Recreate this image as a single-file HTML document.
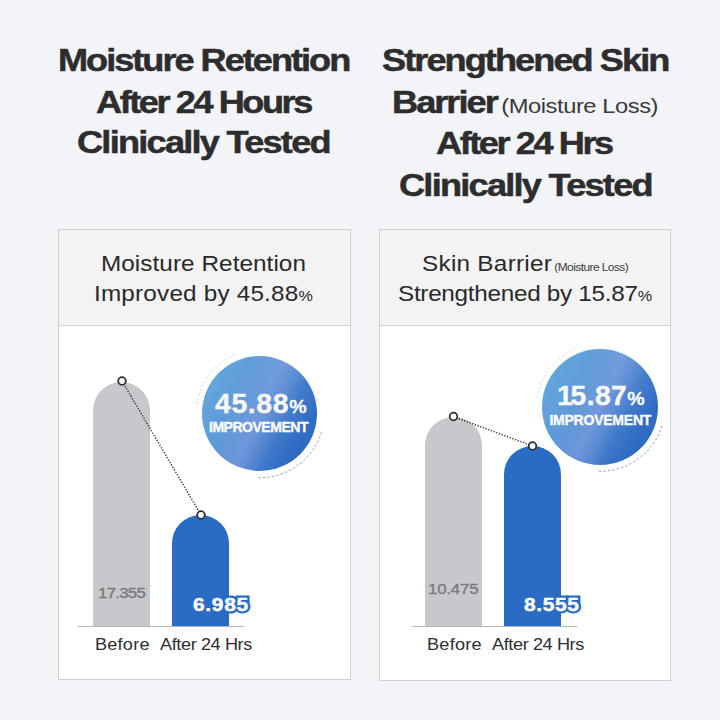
<!DOCTYPE html>
<html><head><meta charset="utf-8">
<style>
html,body{margin:0;padding:0;}
body{width:720px;height:720px;overflow:hidden;background:#f3f4f8;position:relative;font-family:"Liberation Sans",sans-serif;}
.t{position:absolute;white-space:nowrap;line-height:1;}
.title{font-weight:bold;font-size:32px;color:#2d2d2d;transform:scaleX(1.13);transform-origin:0 0;-webkit-text-stroke:0.5px #2d2d2d;}
.box{position:absolute;background:#fff;border:1px solid #d0d0d0;box-sizing:border-box;}
.hdr{position:absolute;left:0;top:0;right:0;background:#f3f3f3;border-bottom:1px solid #d2d2d2;}
.ht{font-size:22.5px;color:#2a2a2a;transform:scaleX(1.08);transform-origin:0 0;}
.bar{position:absolute;}
.gray{background:#c8c8cc;}
.blue{background:#2a6cc3;}
.lbl{font-size:16.5px;color:#2e2e2e;transform:scaleX(1.1);transform-origin:0 0;}
.gnum{font-size:15.3px;color:#7b7b7f;-webkit-text-stroke:0.4px #7b7b7f;transform:scaleX(1.1);transform-origin:0 0;}
.bnum{font-size:19px;font-weight:bold;color:#fff;transform-origin:0 0;}
.bnum span{position:absolute;left:0;top:0;-webkit-text-stroke:0.4px #fff;}
.bnum .st{-webkit-text-stroke:5px #2a6cc3;color:#2a6cc3;}
.badge{position:absolute;border-radius:50%;background:linear-gradient(115deg,rgba(255,255,255,0) 30%,rgba(180,180,235,0.32) 50%,rgba(255,255,255,0) 68%),linear-gradient(122deg,#6aabe0 0%,#5e9dda 32%,#4c86d0 56%,#306cc3 80%,#2766c0 100%);}
.bn{font-size:27.5px;font-weight:bold;color:#fafafa;-webkit-text-stroke:0.3px #fafafa;transform:scaleX(1.03);transform-origin:0 0;}
.imp{font-size:14px;font-weight:bold;color:#fafafa;-webkit-text-stroke:0.4px #fafafa;}
</style></head><body>

<!-- Titles -->
<div class="t title" id="l1" style="left:58.00px;top:44.00px;letter-spacing:-1.780px">Moisture Retention</div>
<div class="t title" id="l2" style="left:96.00px;top:85.50px;letter-spacing:-2.166px">After 24 Hours</div>
<div class="t title" id="l3" style="left:77.00px;top:126.00px;letter-spacing:-1.553px">Clinically Tested</div>

<div class="t title" id="r1" style="left:382.00px;top:44.00px;letter-spacing:-1.722px">Strengthened Skin</div>
<div class="t title" id="r2" style="left:392px;top:85.5px;letter-spacing:-1.75px">Barrier<span style="font-weight:normal;font-size:21px;letter-spacing:-0.4px;margin-left:4px;-webkit-text-stroke:0;color:#3a3a3a">(Moisture Loss)</span></div>
<div class="t title" id="r3" style="left:436.00px;top:127.00px;letter-spacing:-2.162px">After 24 Hrs</div>
<div class="t title" id="r4" style="left:399.00px;top:168.50px;letter-spacing:-1.553px">Clinically Tested</div>

<!-- Left box -->
<div class="box" style="left:58px;top:229px;width:293px;height:451px">
  <div class="hdr" style="height:95px"></div>
</div>
<div class="t ht" id="lh1" style="left:101.00px;top:252.80px;letter-spacing:0.054px">Moisture Retention</div>
<div class="t ht" id="lh2" style="left:94.00px;top:283.00px;letter-spacing:0.174px">Improved by 45.88<span style="font-size:15px">%</span></div>

<!-- Right box -->
<div class="box" style="left:379px;top:229px;width:292px;height:452px">
  <div class="hdr" style="height:95px"></div>
</div>
<div class="t ht" id="rh1" style="left:422px;top:252.8px;letter-spacing:0.25px">Skin Barrier<span style="font-size:11px;letter-spacing:-0.5px;margin-left:2px;color:#3c3c3c">(Moisture Loss)</span></div>
<div class="t ht" id="rh2" style="left:398.00px;top:283.00px;letter-spacing:-0.276px">Strengthened by 15.87<span style="font-size:15px">%</span></div>

<!-- Left chart -->
<div class="bar gray" style="left:93px;top:382px;width:57px;height:244px;border-radius:28.5px 28.5px 0 0"></div>
<div class="bar blue" style="left:172px;top:515px;width:57px;height:111px;border-radius:28.5px 28.5px 0 0"></div>
<div style="position:absolute;left:78px;top:626px;width:166px;height:1px;background:#b4b4b4"></div>
<div class="badge" style="left:202px;top:356px;width:115px;height:115px"></div>
<div class="t gnum" id="g1" style="left:97.60px;top:585.00px;letter-spacing:-0.665px">17.355</div>
<div class="t bnum" id="b1" style="left:193.20px;top:595.20px;transform:scaleX(1.1);letter-spacing:0.636px"><span class="st">6.985</span><span>6.985</span></div>
<div class="t lbl" id="lb1" style="left:94.80px;top:636.20px;letter-spacing:0.182px">Before</div>
<div class="t lbl" id="la1" style="left:160.00px;top:636.20px;letter-spacing:-0.376px">After 24 Hrs</div>
<div class="t bn" id="bn1" style="left:215.20px;top:390.00px;letter-spacing:0.640px">45.88<span style="font-size:19px">%</span></div>
<div class="t imp" id="im1" style="left:209.00px;top:419.60px;letter-spacing:-0.480px">IMPROVEMENT</div>

<!-- Right chart -->
<div class="bar gray" style="left:425px;top:417px;width:57px;height:209px;border-radius:28.5px 28.5px 0 0"></div>
<div class="bar blue" style="left:504px;top:446px;width:57px;height:180px;border-radius:28.5px 28.5px 0 0"></div>
<div style="position:absolute;left:412px;top:626px;width:165px;height:1px;background:#b4b4b4"></div>
<div class="badge" style="left:542px;top:349px;width:116px;height:116px"></div>
<div class="t gnum" id="g2" style="left:427.80px;top:581.00px;letter-spacing:-0.158px">10.475</div>
<div class="t bnum" id="b2" style="left:524.00px;top:595.00px;transform:scaleX(1.1);letter-spacing:0.591px"><span class="st">8.555</span><span>8.555</span></div>
<div class="t lbl" id="lb2" style="left:426.90px;top:636.20px;letter-spacing:0.218px">Before</div>
<div class="t lbl" id="la2" style="left:491.80px;top:636.20px;letter-spacing:-0.376px">After 24 Hrs</div>
<div class="t bn" id="bn2" style="left:557.00px;top:382.40px;letter-spacing:0.377px"><span style="margin-right:-2.5px">1</span>5.87<span style="font-size:19px">%</span></div>
<div class="t imp" id="im2" style="left:549.40px;top:413.40px;letter-spacing:-0.230px">IMPROVEMENT</div>

<svg style="position:absolute;left:0;top:0" width="720" height="720">
  <g fill="none" stroke-width="1" stroke-dasharray="2.5 2">
    <path d="M 196.9 404.4 A 63.5 63.5 0 0 1 237.0 353.9" stroke="#d3d9e2"/>
    <path d="M 321.5 432.1 A 64.5 64.5 0 0 1 256.4 477.6" stroke="#8ba3c8"/>
    <path d="M 537.3 398.0 A 63.5 63.5 0 0 1 577.4 347.5" stroke="#d3d9e2"/>
    <path d="M 661.9 425.7 A 64.5 64.5 0 0 1 596.8 471.2" stroke="#8ba3c8"/>
  </g>
</svg>

<svg style="position:absolute;left:0;top:0" width="720" height="720">
  <line x1="122" y1="381" x2="201" y2="515" stroke="#3a3a3a" stroke-width="1.5" stroke-dasharray="1.3 1.55"/>
  <circle cx="122" cy="381" r="3.8" fill="#fff" stroke="#2e2e2e" stroke-width="1.8"/>
  <circle cx="201" cy="515" r="3.8" fill="#fff" stroke="#2e2e2e" stroke-width="1.8"/>
  <line x1="453.5" y1="416.5" x2="532.5" y2="446" stroke="#3a3a3a" stroke-width="1.5" stroke-dasharray="1.3 1.55"/>
  <circle cx="453.5" cy="416.5" r="3.8" fill="#fff" stroke="#2e2e2e" stroke-width="1.8"/>
  <circle cx="532.5" cy="446" r="3.8" fill="#fff" stroke="#2e2e2e" stroke-width="1.8"/>
</svg>
</body></html>
